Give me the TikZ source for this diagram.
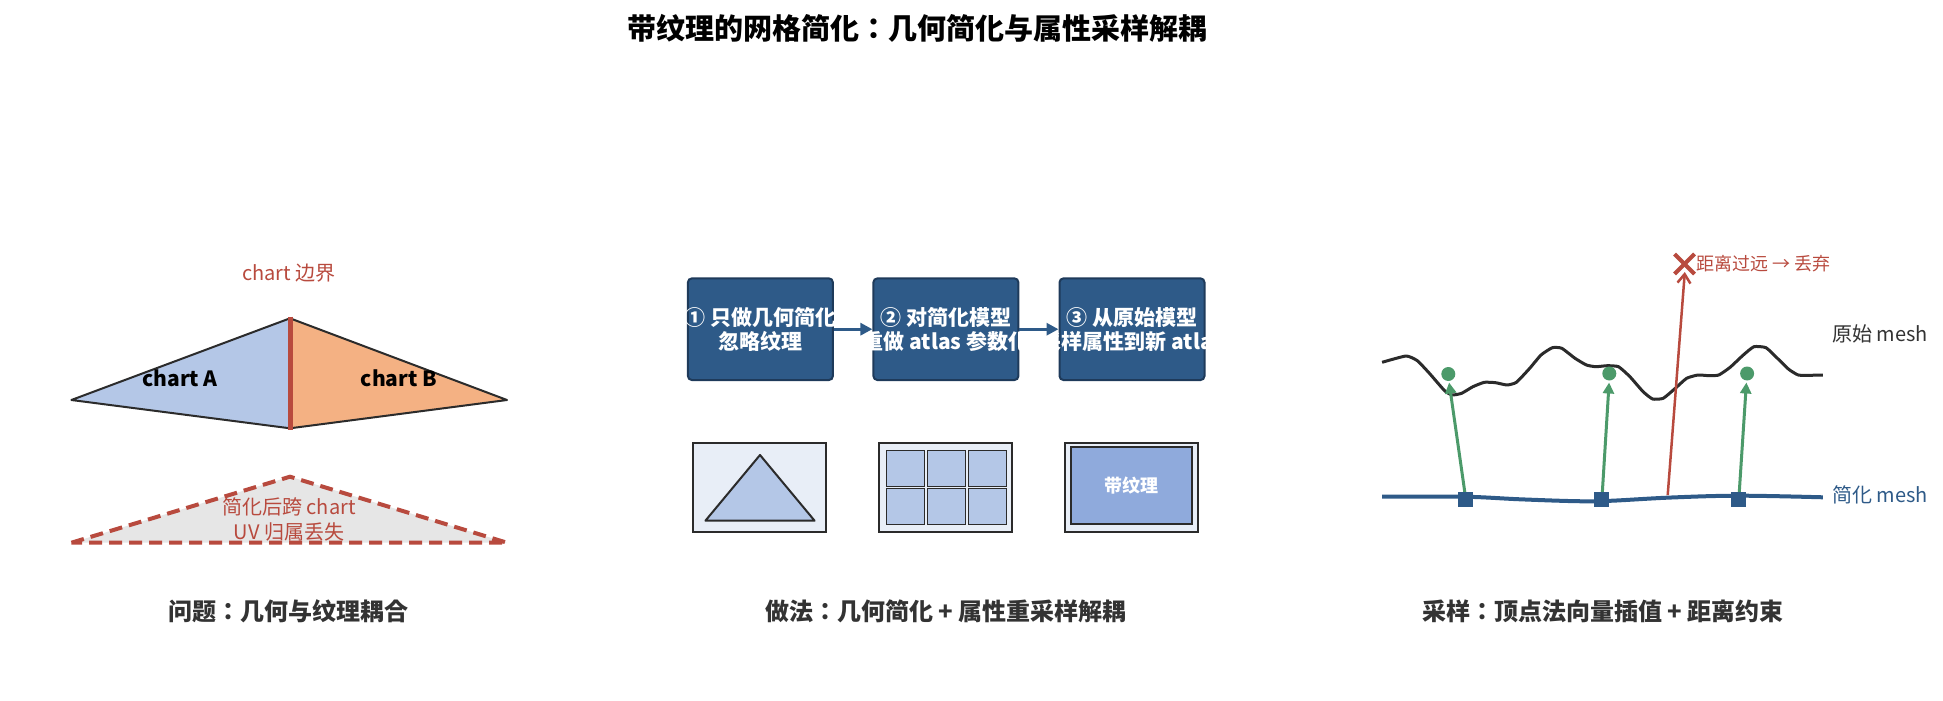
\documentclass[tikz,border=0pt]{standalone}
\usepackage{fontspec}
\setmainfont{Noto Sans CJK JP}
\usetikzlibrary{arrows.meta,calc}
\definecolor{dblue}{HTML}{2E5A88}
\definecolor{dborder}{HTML}{1E3A5A}
\definecolor{lblue}{HTML}{B4C7E7}
\definecolor{mblue}{HTML}{8FAADC}
\definecolor{iconbg}{HTML}{E8EEF7}
\definecolor{orng}{HTML}{F4B183}
\definecolor{redc}{HTML}{B84A3E}
\definecolor{grn}{HTML}{4C9A6A}
\definecolor{dark}{HTML}{2B2B2B}
\definecolor{txt}{HTML}{333333}
\definecolor{gfill}{HTML}{E6E6E6}
\tikzset{
  stepbox/.style={draw=dborder, line width=2pt, fill=dblue, rounded corners=4pt,
    minimum width=145pt, minimum height=101.7pt, inner sep=0pt},
  boxtext/.style={text=white, align=center, inner sep=0pt,
    font=\fontsize{21}{24}\selectfont\bfseries},
  flowarrow/.style={draw=dblue, line width=3pt, -{Triangle[length=12pt,width=12pt]}},
  iconbox/.style={draw=dark, line width=2pt, fill=iconbg, minimum width=133pt,
    minimum height=89pt, inner sep=0pt},
  cell/.style={draw=dark, line width=1pt, fill=lblue, minimum width=38pt,
    minimum height=36pt, inner sep=0pt},
  caption/.style={text=txt, font=\fontsize{24}{28}\selectfont\bfseries, inner sep=0pt},
  sq/.style={fill=dblue, minimum size=15pt, inner sep=0pt},
  gdot/.style={circle, fill=grn, minimum size=14pt, inner sep=0pt},
  garrow/.style={draw=grn, line width=3pt, -{Triangle[length=11pt,width=11pt]}},
  tri/.style={draw=dark, line width=2pt, line join=round},
}
\begin{document}
\begin{tikzpicture}[x=1pt,y=-1pt]
\useasboundingbox (0,0) rectangle (1943,701);
% title
\node[inner sep=0pt, font=\fontsize{29}{34}\selectfont\bfseries] (title) at (917,28) {带纹理的网格简化：几何简化与属性采样解耦};

% ---------- panel 1 ----------
\coordinate (L) at (71.4,400);
\coordinate (T) at (290,318.3);
\coordinate (B) at (290,428.3);
\coordinate (R) at (507,400);
\fill[lblue] (L) -- (T) -- (B) -- cycle;
\fill[orng] (T) -- (R) -- (B) -- cycle;
\draw[tri] (T) -- (L) -- (B);
\draw[tri] (T) -- (R) -- (B);
\draw[redc, line width=5pt] (290,316.7) -- (290,430);
\node[text=redc, inner sep=0pt, font=\fontsize{20}{24}\selectfont] (cb) at (289,273.3) {chart 边界};
\node[inner sep=0pt, font=\fontsize{21}{24}\selectfont\bfseries] (ca) at (180,378.3) {chart A};
\node[inner sep=0pt, font=\fontsize{21}{24}\selectfont\bfseries] (cbb) at (399,378.3) {chart B};
\draw[redc, line width=4pt, fill=gfill, dash pattern=on 13pt off 7pt, line join=miter]
  (71.4,542.7) -- (290,476.7) -- (507,542.7) -- cycle;
\node[text=redc, align=center, inner sep=0pt, font=\fontsize{20}{25}\selectfont] (lost) at (289,519.2) {简化后跨 chart\\UV 归属丢失};
\node[caption] (cap1) at (288,611.5) {问题：几何与纹理耦合};

% ---------- panel 2 ----------
\node[stepbox] (b1) at (760.4,329.2) {};
\node[stepbox] (b2) at (945.9,329.2) {};
\node[stepbox] (b3) at (1132,329.2) {};
\node[boxtext] (t1) at (b1) {① 只做几何简化\\忽略纹理};
\node[boxtext] (t2) at (b2) {② 对简化模型\\重做 atlas 参数化};
\node[boxtext] (t3) at (b3) {③ 从原始模型\\采样属性到新 atlas};
\draw[flowarrow] (b1.east) -- (b2.west);
\draw[flowarrow] (b2.east) -- (b3.west);

\node[iconbox] (i1) at (759.8,487.8) {};
\draw[tri, fill=lblue] (760,455) -- (705.4,520.7) -- (814.6,520.7) -- cycle;
\node[iconbox] (i2) at (945.9,487.8) {};
\foreach \cx in {905.2,946.6,987.4}{
  \foreach \cy in {468.2,506.3}{
    \node[cell] at (\cx,\cy) {};
  }
}
\node[iconbox] (i3) at (1131.8,487.8) {};
\node[draw=dark, line width=2pt, fill=mblue, minimum width=120.7pt, minimum height=77.3pt, inner sep=0pt] (tex) at (1131.8,485.4) {};
\node[text=white, inner sep=0pt, font=\fontsize{18}{22}\selectfont\bfseries] (texl) at (tex) {带纹理};
\node[caption] (cap2) at (946,611.5) {做法：几何简化 + 属性重采样解耦};

% ---------- panel 3 ----------
\draw[dark, line width=3pt, line join=round] plot[smooth, tension=0.3] coordinates {
 (1382.1,362.3) (1406.0,356.0) (1417.3,360.7) (1429.4,373.3) (1444.6,390.7)
 (1452.1,395) (1461.6,393.3) (1472.9,386.7) (1484.3,382.3) (1495.6,382.7)
 (1507.0,385) (1516.4,382.3) (1529.7,368.3) (1541.0,355) (1552.3,347.7)
 (1561.8,348.3) (1575.0,358.3) (1586.4,365) (1595.8,366.7) (1607.2,365.7)
 (1618.5,366.7) (1629.9,376.7) (1643.1,391.7) (1652.6,399) (1663.2,398.3)
 (1675.3,388.3) (1686.6,378.3) (1698.0,375) (1709.3,375.7) (1718.8,375)
 (1730.1,367.3) (1743.3,355) (1753.9,346.7) (1766.0,347.7) (1777.4,358.3)
 (1788.7,369.3) (1798.2,375) (1809.5,375.3) (1822.8,375)};
\draw[dblue, line width=4pt] plot[smooth, tension=0.6] coordinates {
 (1382.1,496.7) (1463.5,496.7) (1520.2,499.3) (1577,501.2) (1610,500.8)
 (1671.5,497.5) (1739.6,495.7) (1822.8,497.3)};
\node[text=txt, anchor=west, inner sep=0pt, font=\fontsize{20}{24}\selectfont] (orig) at (1832,334.3) {原始 mesh};
\node[text=dblue, anchor=west, inner sep=0pt, font=\fontsize{20}{24}\selectfont] (simp) at (1832,495) {简化 mesh};

\coordinate (p1) at (1465.8,499.2);
\coordinate (p2) at (1601.9,499.2);
\coordinate (p3) at (1738.8,499.2);
\coordinate (h1) at (1449.1,382.5);
\coordinate (h2) at (1609.1,382.5);
\coordinate (h3) at (1746.4,382.5);
\draw[garrow] (p1) -- (h1);
\draw[garrow] (p2) -- (h2);
\draw[garrow] (p3) -- (h3);
\node[gdot] (d1) at (1448.3,374) {};
\node[gdot] (d2) at (1609.3,373.5) {};
\node[gdot] (d3) at (1747.1,373.5) {};
\node[sq] (s1) at (p1) {};
\node[sq] (s2) at (p2) {};
\node[sq] (s3) at (p3) {};

\coordinate (rs) at (1667.7,495);
\coordinate (rx) at (1684.5,264);
\coordinate (rt) at (1684.8,272);
\draw[redc, line width=2.5pt, -{Straight Barb[length=9pt,width=13pt]}] (rs) -- (rt);
\draw[redc, line width=4pt] ($(rx)+(-10,-10)$) -- ($(rx)+(10,10)$);
\draw[redc, line width=4pt] ($(rx)+(-10,10)$) -- ($(rx)+(10,-10)$);
\node[text=redc, anchor=west, inner sep=0pt, font=\fontsize{18}{22}\selectfont] (far) at (1696,264) {距离过远 → 丢弃};
\node[caption] (cap3) at (1603,611.5) {采样：顶点法向量插值 + 距离约束};
\end{tikzpicture}
\end{document}
